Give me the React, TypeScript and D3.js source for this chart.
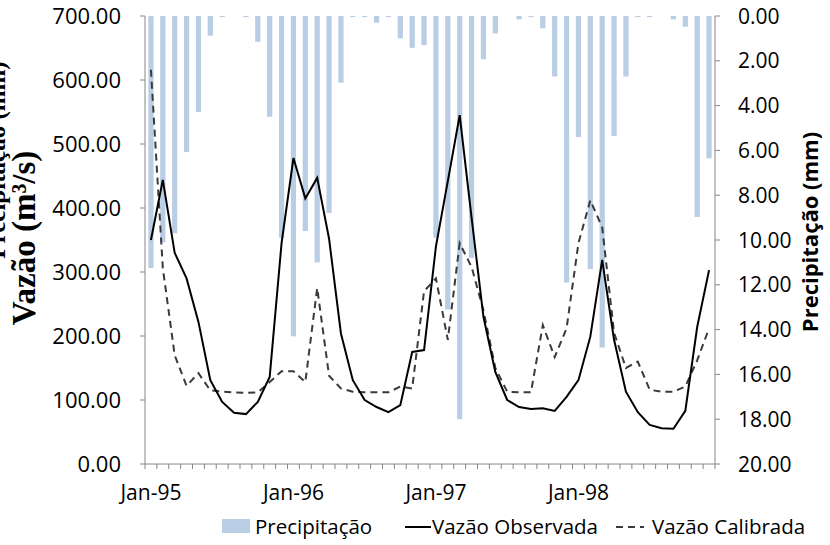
import React from "react";
import * as d3 from "d3";

const months = [
  "Jan-95","Feb-95","Mar-95","Apr-95","May-95","Jun-95","Jul-95","Aug-95","Sep-95","Oct-95","Nov-95","Dec-95",
  "Jan-96","Feb-96","Mar-96","Apr-96","May-96","Jun-96","Jul-96","Aug-96","Sep-96","Oct-96","Nov-96","Dec-96",
  "Jan-97","Feb-97","Mar-97","Apr-97","May-97","Jun-97","Jul-97","Aug-97","Sep-97","Oct-97","Nov-97","Dec-97",
  "Jan-98","Feb-98","Mar-98","Apr-98","May-98","Jun-98","Jul-98","Aug-98","Sep-98","Oct-98","Nov-98","Dec-98",
];
const xTickLabels = ["Jan-95", "Jan-96", "Jan-97", "Jan-98"];

const precipitacao = [
  11.25, 10.1, 9.7, 6.07, 4.28, 0.88, 0.05, 0, 0.05, 1.15, 4.5, 9.9,
  14.3, 9.6, 11.0, 8.8, 2.98, 0.05, 0.05, 0.3, 0.05, 1.0, 1.42, 1.3,
  9.9, 13.1, 18.0, 10.8, 1.93, 0.78, 0, 0.15, 0.05, 0.55, 2.7, 11.9,
  5.4, 11.3, 14.8, 5.36, 2.7, 0.05, 0.05, 0, 0.15, 0.48, 8.97, 6.35,
];
const vazaoObservada = [
  350, 444, 330, 290, 222, 131, 97, 80, 78, 97, 136, 345,
  478, 415, 447, 352, 204, 131, 100, 89, 81, 92, 175, 178,
  340, 442, 545, 385, 230, 144, 100, 89, 86, 87, 83, 105,
  131, 199, 319, 194, 113, 81, 61, 56, 55, 83, 214, 303,
];
const vazaoCalibrada = [
  616, 306, 170, 122, 142, 115, 113, 112, 111, 112, 128, 145,
  145, 128, 275, 138, 118, 113, 112, 112, 112, 121, 118, 270,
  290, 194, 345, 308, 240, 150, 113, 112, 112, 217, 167, 212,
  345, 412, 370, 205, 150, 160, 116, 113, 113, 121, 162, 212,
];
const leftTicks = [0, 100, 200, 300, 400, 500, 600, 700];
const rightTicks = [0, 2, 4, 6, 8, 10, 12, 14, 16, 18, 20];

const W = 830;
const H = 545;
const PL = 145, PR = 715, PT = 16, PB = 464;
const AXIS = "#868686";
const BAR = "#b9cde5";
const TICKFONT = "'Open Sans', sans-serif";

export default function App() {
  const x = d3.scaleBand<string>().domain(months).range([PL, PR]).padding(0);
  const cx = (m: string) => (x(m) as number) + x.bandwidth() / 2;
  const bw = x.bandwidth() * 0.44;
  const yL = d3.scaleLinear().domain([0, 700]).range([PB, PT]);
  const yR = d3.scaleLinear().domain([0, 20]).range([PT, PB]);

  const line = d3
    .line<number>()
    .x((_, i) => cx(months[i]))
    .y((d) => yL(d));

  const boundaries = d3.range(months.length + 1).map((i) => PL + i * x.step());

  return (
    <svg
      width={W}
      height={H}
      viewBox={`0 0 ${W} ${H}`}
      style={{ position: "absolute", left: 0, top: 0, background: "#fff" }}
    >
      <rect x={0} y={0} width={W} height={H} fill="#fff" />
      {precipitacao.map((v, i) => (
        <rect
          key={"b" + i}
          x={cx(months[i]) - bw / 2}
          y={yR(0)}
          width={bw}
          height={Math.max(0, yR(v) - yR(0))}
          fill={BAR}
        />
      ))}
      <path d={line(vazaoCalibrada) || ""} fill="none" stroke="#3a3a3a" strokeWidth={2} strokeDasharray="7,5" />
      <path d={line(vazaoObservada) || ""} fill="none" stroke="#000" strokeWidth={2} />

      <line x1={PL} x2={PL} y1={PT} y2={PB} stroke={AXIS} />
      <line x1={PR} x2={PR} y1={PT} y2={PB} stroke={AXIS} />
      <line x1={PL} x2={PR} y1={PB} y2={PB} stroke={AXIS} />
      {leftTicks.map((t) => (
        <g key={"l" + t}>
          <line x1={PL - 5} x2={PL} y1={yL(t)} y2={yL(t)} stroke={AXIS} />
          <text x={121} y={yL(t)} dy="0.36em" textAnchor="end" fontFamily={TICKFONT} fontSize={22} fill="#000">
            {t.toFixed(2)}
          </text>
        </g>
      ))}
      {rightTicks.map((t) => (
        <g key={"r" + t}>
          <line x1={PR} x2={PR + 5} y1={yR(t)} y2={yR(t)} stroke={AXIS} />
          <text x={738} y={yR(t)} dy="0.36em" textAnchor="start" fontFamily={TICKFONT} fontSize={21} fill="#000">
            {t.toFixed(2)}
          </text>
        </g>
      ))}
      {boundaries.map((bx, i) => (
        <line key={"t" + i} x1={bx} x2={bx} y1={PB} y2={PB + 5} stroke={AXIS} />
      ))}
      {xTickLabels.map((lab) => (
        <text key={lab} x={cx(lab)} y={500} textAnchor="middle" fontFamily={TICKFONT} fontSize={21} fill="#000">
          {lab}
        </text>
      ))}

      <text
        transform={`translate(35,238) rotate(-90)`}
        textAnchor="middle"
        fontFamily="'Liberation Serif', serif"
        fontWeight="bold"
        fontSize={33}
        fill="#000"
      >
        Vazão (m³/s)
      </text>
      <text
        transform={`translate(5,160) rotate(-90)`}
        textAnchor="middle"
        fontFamily="'Liberation Serif', serif"
        fontWeight="bold"
        fontSize={25}
        fill="#000"
      >
        Precipitação (mm)
      </text>
      <text
        transform={`translate(818,232) rotate(-90)`}
        textAnchor="middle"
        fontFamily={TICKFONT}
        fontWeight="bold"
        fontSize={22}
        fill="#000"
      >
        Precipitação (mm)
      </text>

      <rect x={222} y={519} width={28} height={14} fill={BAR} />
      <text x={255} y={534} fontFamily={TICKFONT} fontSize={20.5} fill="#000">Precipitação</text>
      <line x1={405} x2={431} y1={527} y2={527} stroke="#000" strokeWidth={2} />
      <text x={432} y={534} fontFamily={TICKFONT} fontSize={20.5} fill="#000">Vazão Observada</text>
      <line x1={616} x2={644} y1={527} y2={527} stroke="#3a3a3a" strokeWidth={2} strokeDasharray="7,5" />
      <text x={652} y={534} fontFamily={TICKFONT} fontSize={20.5} fill="#000">Vazão Calibrada</text>
    </svg>
  );
}
